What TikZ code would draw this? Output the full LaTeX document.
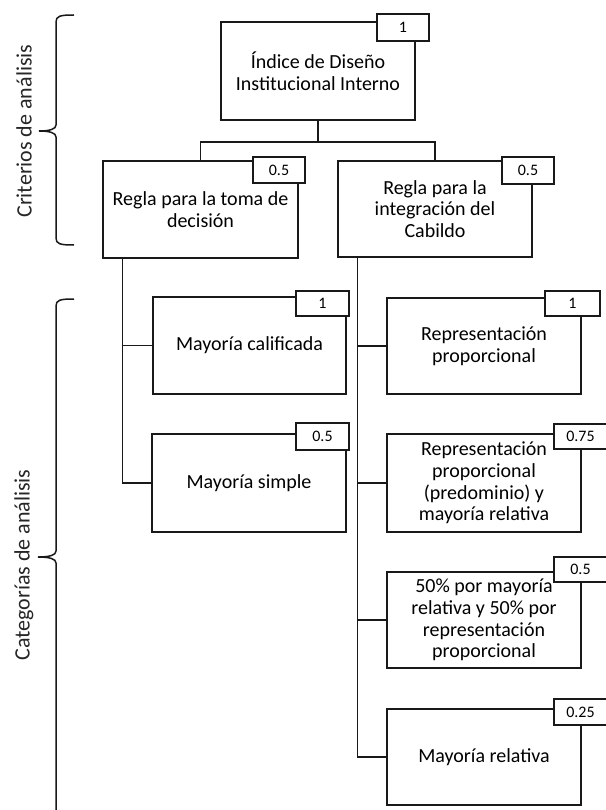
\documentclass[tikz,border=0pt]{standalone}
\usepackage{fontspec}
\setmainfont{Carlito}
\begin{document}
\begin{tikzpicture}[x=1pt,y=-1pt,
  line join=miter,
  box/.style={draw=black!90, line width=1.5pt, fill=white, inner sep=0pt,
    align=center, font=\fontsize{20}{21.7}\selectfont},
  weight/.style={draw=black!90, line width=1.5pt, fill=white, inner sep=0pt,
    font=\fontsize{16}{16}\selectfont},
  link/.style={draw=black!90, line width=1.5pt},
  brace/.style={draw=black!90, line width=1.5pt},
  side/.style={rotate=90, font=\fontsize{22}{24}\selectfont, text=black!85}
]
\useasboundingbox (0,0) rectangle (605,810);

% main boxes: name, centre x, centre y, width, height, text
\newcommand{\mybox}[6]{%
  \node[box, minimum width=#4pt, minimum height=#5pt] (#1) at (#2,#3) {#6};}
\newcommand{\myweight}[6]{%
  \node[weight, minimum width=#4pt, minimum height=#5pt] (#1) at (#2,#3) {#6};}

\coordinate (hub) at (318,142);

\mybox{top}{318}{71}{194}{98}{Índice de Diseño\\Institucional Interno}
\mybox{lrule}{200.5}{209.5}{195}{97}{Regla para la toma de\\decisión}
\mybox{rrule}{435}{209}{194}{96}{Regla para la\\integración del\\Cabildo}
\mybox{calif}{249.5}{345.5}{193}{97}{Mayoría calificada}
\mybox{simple}{249}{483}{194}{98}{Mayoría simple}
\mybox{rp}{484}{346}{194}{96}{Representación\\proporcional}
\mybox{rpm}{484}{483}{194}{98}{Representación\\proporcional\\(predominio) y\\mayoría relativa}
\mybox{mix}{484}{620}{194}{96}{50\% por mayoría\\relativa y 50\% por\\representación\\proporcional}
\mybox{mr}{484}{757}{194}{96}{Mayoría relativa}

% tree connectors
\draw[link, line width=2.4pt] (top.south) -- (hub);
\draw[link] (lrule.north) |- (hub) -| (rrule.north);
\coordinate (lspine) at ([xshift=20pt]lrule.south west);
\coordinate (rspine) at ([xshift=20pt]rrule.south west);
\draw[link] (lspine) |- (calif.west);
\draw[link] (lspine) |- (simple.west);
\draw[link] (rspine) |- (rp.west);
\draw[link] (rspine) |- (rpm.west);
\draw[link] (rspine) |- (mix.west);
\draw[link] (rspine) |- (mr.west);

% weights
\myweight{wtop}{403}{27.5}{52}{27}{1}
\myweight{wl}{279}{170}{52}{26}{0.5}
\myweight{wr}{528}{170.5}{52}{27}{0.5}
\myweight{wcalif}{322.5}{303.5}{53}{25}{1}
\myweight{wsimple}{322.5}{436.5}{53}{27}{0.5}
\myweight{wrp}{572.5}{303.5}{55}{25}{1}
\myweight{wrpm}{580.5}{436.5}{53}{25}{0.75}
\myweight{wmix}{580.5}{569.5}{53}{25}{0.5}
\myweight{wmr}{580.5}{712}{53}{26}{0.25}

% braces and their labels
\draw[brace] (74,15) .. controls (60,15) and (56,16) .. (56,22)
  -- (56,125) .. controls (56,129) and (50,131) .. (39,131)
  .. controls (50,131) and (56,133) .. (56,137)
  -- (56,238) .. controls (56,244) and (60,245) .. (74,245);
\node[side] (crit) at (24,131) {Criterios de análisis};

\draw[brace] (74,299) .. controls (60,299) and (56,300) .. (56,306)
  -- (56,551) .. controls (56,555) and (50,557) .. (38,557)
  .. controls (50,557) and (56,559) .. (56,563)
  -- (56,820);
\node[side] (cat) at (24,565) {Categorías de análisis};
\end{tikzpicture}
\end{document}
